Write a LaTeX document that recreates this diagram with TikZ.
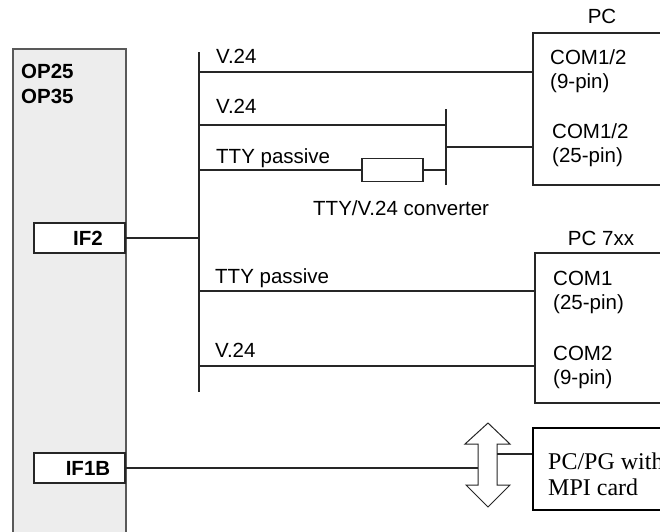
\documentclass[tikz,border=0pt]{standalone}
\usepackage{fontspec}
\setmainfont{Liberation Sans}
\newfontfamily\seriffont{Liberation Serif}
\begin{document}
\begin{tikzpicture}[x=1pt,y=-1pt,
  line/.style={draw=black!85,line width=1.1pt},
  box/.style={draw=black!85,line width=1.1pt,fill=white,inner sep=0pt,minimum width=#1},
  lbl/.style={inner sep=0pt,anchor=base west,font=\fontsize{20.5}{24}\selectfont},
  clbl/.style={inner sep=0pt,anchor=base,font=\fontsize{20.5}{24}\selectfont},
  blbl/.style={inner sep=0pt,anchor=base,font=\fontsize{20.5}{24}\selectfont\bfseries},
  slbl/.style={inner sep=0pt,anchor=base west,font=\fontsize{24}{27}\selectfont\seriffont}]
\path[use as bounding box] (0,0) rectangle (660,531);
\clip (0,0) rectangle (660,531);
% OP panel
\node[draw=black!65,line width=1.2pt,fill=black!7,minimum width=113pt,minimum height=496pt,inner sep=0pt] (op) at (69.5,297) {};
\node[inner sep=0pt,anchor=base west,font=\fontsize{20.5}{24}\selectfont\bfseries] (op25) at (21,78) {OP25};
\node[inner sep=0pt,anchor=base west,font=\fontsize{20.5}{24}\selectfont\bfseries] (op35) at (21,103) {OP35};
\node[box=91pt,minimum height=30pt] (if2) at (79.5,238) {};
\node[blbl] (if2t) at (88,245.5) {IF2};
\node[box=91pt,minimum height=30pt] (if1b) at (79.5,468) {};
\node[blbl] (if1bt) at (88,475.5) {IF1B};
% bus
\coordinate (busT) at (199,52);
\coordinate (busB) at (199,392);
\draw[line] (busT) -- (busB);
\draw[line] (if2.east) -- (if2.east -| busT);
% PC box
\node[box=167pt,minimum height=152pt] (pc) at (616.5,109) {};
\node[clbl] (pct) at (602,23) {PC};
\node[lbl] (c1) at (550,64) {COM1/2};
\node[lbl] (c2) at (550,88) {(9-pin)};
\node[lbl] (c3) at (552,138) {COM1/2};
\node[lbl] (c4) at (552,162) {(25-pin)};
% lines to PC
\coordinate (l1) at (199,72);
\draw[line] (l1) -- (l1 -| pc.west);
\node[lbl] (v1) at (216,63) {V.24};
\coordinate (barT) at (446,109);
\coordinate (barB) at (446,185);
\draw[line] (barT) -- (barB);
\coordinate (l2) at (199,125);
\draw[line] (l2) -- (l2 -| barT);
\node[lbl] (v2) at (216,113) {V.24};
\node[draw=black!85,line width=1.1pt,inner sep=0pt,minimum width=61pt,minimum height=23pt] (conv) at (392.5,170) {};
\coordinate (l3) at (199,170);
\draw[line] (l3) -- (conv.west);
\draw[line] (conv.east) -- (conv.east -| barT);
\node[lbl] (tty1) at (216,163) {TTY passive};
\node[lbl] (convt) at (313,215) {TTY/V.24 converter};
\coordinate (bm) at (446,147);
\draw[line] (bm) -- (bm -| pc.west);
% PC 7xx
\node[box=165pt,minimum height=150pt] (pc7) at (617.5,328) {};
\node[clbl] (pc7t) at (601,245) {PC 7xx};
\node[lbl] (d1) at (553,285) {COM1};
\node[lbl] (d2) at (553,309) {(25-pin)};
\node[lbl] (d3) at (553,360) {COM2};
\node[lbl] (d4) at (553,384) {(9-pin)};
\coordinate (l4) at (199,291);
\draw[line] (l4) -- (l4 -| pc7.west);
\node[lbl] (tty2) at (215,283) {TTY passive};
\coordinate (l5) at (199,366);
\draw[line] (l5) -- (l5 -| pc7.west);
\node[lbl] (v3) at (215,357) {V.24};
% MPI
\node[draw=black,line width=2pt,fill=white,inner sep=0pt,minimum width=167pt,minimum height=82pt] (mpi) at (616.5,469) {};
\node[slbl] (m1) at (548,469) {PC/PG with};
\node[slbl] (m2) at (548,495) {MPI card};
% double arrow
\draw[line,line width=1pt,fill=white] (478,444) -- (465,444) -- (488,423) -- (510,444) -- (497,444) -- (497,485) -- (510,485) -- (488,507) -- (466,485) -- (478,485) -- cycle;
\coordinate (aL) at (478,469);
\coordinate (aR) at (497,454);
\draw[line] (if1b.east) -- (if1b.east -| aL);
\draw[line] (aR) -- (aR -| mpi.west);
\end{tikzpicture}
\end{document}
